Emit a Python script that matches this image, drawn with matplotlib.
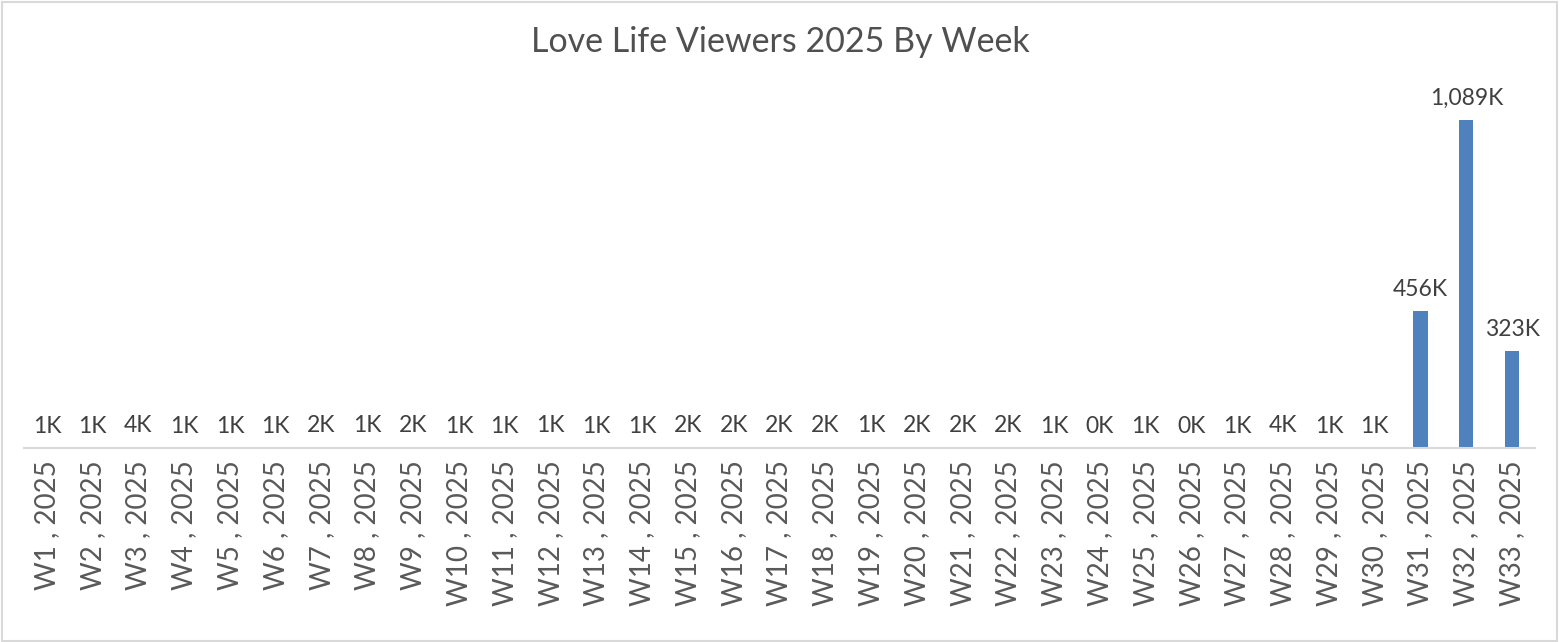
import matplotlib
matplotlib.use("Agg")
import matplotlib.pyplot as plt
from matplotlib.patches import Rectangle

plt.rcParams['font.family'] = ['Lato', 'DejaVu Sans']

weeks = [f"W{i}" for i in range(1, 34)]
year = "2025"
viewers_k = [1.2, 1.1, 4.0, 1.0, 1.1, 1.2, 2.0, 1.3, 1.8, 1.2, 1.1, 1.3, 1.2, 1.1, 1.8, 2.0, 1.9, 2.1, 1.4, 1.8,
             2.0, 1.9, 1.2, 0.4, 1.0, 0.4, 1.1, 3.8, 1.2, 1.1, 456, 1089, 323]
title = "Love Life Viewers 2025 By Week"

tick_labels = [f"{w} , {year}" for w in weeks]
value_labels = [f"{v:,.0f}K" for v in viewers_k]

fig = plt.figure(figsize=(15.6, 6.42), dpi=100)
ax = fig.add_axes([24/1560, 1 - 448/642, (1535-24)/1560, (448-85)/642])

x = list(range(len(weeks)))
bars = ax.bar(x, viewers_k, width=0.31, color="#4F81BD", zorder=2)
ax.set_xlim(-0.5, len(weeks) - 0.5)
ax.set_ylim(0, 1089 * 363 / 328)

for xi, v, lab in zip(x, viewers_k, value_labels):
    ax.annotate(lab, (xi, v), xytext=(0, 8), textcoords="offset points",
                ha="center", va="bottom", fontsize=16.5, color="#404040")

ax.set_xticks(x)
ax.set_xticklabels(tick_labels, rotation=90, fontsize=20, color="#595959")
ax.tick_params(axis="x", length=0, pad=9)
ax.set_yticks([])
for s in ["top", "left", "right"]:
    ax.spines[s].set_visible(False)
ax.spines["bottom"].set_color("#D9D9D9")
ax.spines["bottom"].set_linewidth(1.5)

fig.text(0.5, 1 - 42/642, title, ha="center", va="center", fontsize=24.5, color="#505050")

fig.patches.append(Rectangle((0.001, 0.002), 0.997, 0.995, transform=fig.transFigure,
                             fill=False, edgecolor="#D9D9D9", linewidth=1.5))

fig.savefig("out.png", dpi=100)
